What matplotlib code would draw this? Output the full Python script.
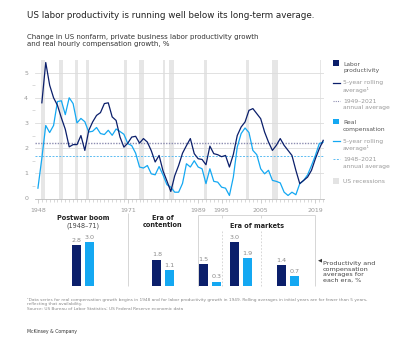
import matplotlib
matplotlib.use('Agg')
import matplotlib.pyplot as plt
from matplotlib.lines import Line2D
from matplotlib.patches import Rectangle

NAVY = '#0b1f6b'
CYAN = '#14a8f2'
GREY_TXT = '#8a8a8a'
DARK_TXT = '#222222'

# 5-year rolling averages, %
years_prod = list(range(1949, 2022))
prod_5yr = [3.8, 5.4, 4.5, 4.0, 3.7, 3.2, 2.75, 2.05, 2.14, 2.14,
            2.5, 1.91, 2.7, 3.04, 3.3, 3.41, 3.77, 3.8, 3.24, 3.1,
            2.44, 2.04, 2.2, 2.44, 2.47, 2.2, 2.38, 2.24, 1.9, 1.45,
            1.71, 1.1, 0.7, 0.28, 0.9, 1.31, 1.8, 2.1, 2.38, 1.78,
            1.58, 1.55, 1.34, 2.08, 1.78, 1.74, 1.66, 1.71, 1.25, 1.75,
            2.5, 2.84, 3.04, 3.5, 3.57, 3.37, 3.17, 2.64, 2.24, 1.91,
            2.11, 2.38, 2.11, 1.91, 1.71, 1.12, 0.59, 0.72, 0.85, 1.12,
            1.58, 1.98, 2.31]

years_comp = list(range(1948, 2022))
comp_5yr = [0.41, 1.6, 2.9, 2.62, 2.9, 3.85, 3.88, 3.33, 4.0, 3.77,
            3.0, 3.18, 3.05, 2.64, 2.67, 2.82, 2.58, 2.54, 2.71, 2.51,
            2.76, 2.66, 2.55, 2.18, 2.1, 1.8, 1.25, 1.21, 1.31, 0.98,
            0.94, 1.27, 0.94, 0.55, 0.45, 0.25, 0.25, 0.6, 1.38, 1.25,
            1.5, 1.25, 1.18, 0.59, 1.18, 0.68, 0.65, 0.45, 0.41, 0.12,
            0.85, 2.04, 2.58, 2.8, 2.62, 1.91, 1.74, 1.18, 0.98, 1.12,
            0.72, 0.68, 0.62, 0.25, 0.12, 0.25, 0.15, 0.59, 0.72, 0.94,
            1.31, 1.71, 2.18, 2.24]

prod_avg = 2.2
comp_avg = 1.7

recessions = [(1948.9, 1949.8), (1953.5, 1954.4), (1957.6, 1958.3),
              (1960.3, 1961.1), (1969.9, 1970.9), (1973.9, 1975.2),
              (1980.0, 1980.5), (1981.5, 1982.9), (1990.5, 1991.2),
              (2001.2, 2001.9), (2007.9, 2009.5), (2020.1, 2020.4)]

xtick_years = [1948, 1971, 1989, 1995, 2005, 2019]

# era averages
era_bounds = [1948, 1971, 1989, 1995, 2005, 2019]
era_prod = [2.8, 1.8, 1.5, 3.0, 1.4]
era_comp = [3.0, 1.1, 0.3, 1.9, 0.7]

W, H = 400, 343


def fx(x):
    return x / W


def fy(y):
    return 1 - y / H


fig = plt.figure(figsize=(4, 3.43), dpi=100)
fig.patch.set_facecolor('white')

# titles
fig.text(fx(27), fy(16), 'US labor productivity is running well below its long-term average.',
         fontsize=6.35, color=DARK_TXT, va='center', ha='left')
fig.text(fx(27), fy(40.5), 'Change in US nonfarm, private business labor productivity growth\n'
         'and real hourly compensation growth, %',
         fontsize=5.0, color='#333333', va='center', ha='left', linespacing=1.15)

# ---- line chart ----
left, right = 35, 324
top, bottom = 60, 198.5
ax = fig.add_axes([fx(left), fy(bottom), (right - left) / W, (bottom - top) / H])
ax.set_xlim(1947.25, 2021.2)
ax.set_ylim(0, 5.5)

for s, e in recessions:
    ax.axvspan(s, e, color='#e6e6e6', lw=0, zorder=0)

for v in range(1, 6):
    ax.axhline(v, color='#dcdcdc', lw=0.6, zorder=1)

ax.axhline(prod_avg, color='#8c8cb0', lw=1.0, ls=(0, (1, 1)), zorder=2)
ax.axhline(comp_avg, color='#5cbcf2', lw=0.7, ls=(0, (2, 1.5)), zorder=2)

ax.plot(years_comp, comp_5yr, color=CYAN, lw=0.9, zorder=3)
ax.plot(years_prod, prod_5yr, color=NAVY, lw=0.9, zorder=4)

for sp in ['top', 'right', 'left']:
    ax.spines[sp].set_visible(False)
ax.spines['bottom'].set_color('#bbbbbb')
ax.spines['bottom'].set_linewidth(0.6)

ax.set_yticks(range(0, 6))
ax.set_yticks([0.5, 1.5, 2.5, 3.5, 4.5], minor=True)
ax.tick_params(axis='y', which='major', length=0, pad=5, labelsize=4.5, labelcolor='#999999')
ax.tick_params(axis='y', which='minor', length=2.5, width=0.5, color='#cccccc')

ax.set_xticks(xtick_years)
ax.set_xticks(range(1948, 2022), minor=True)
ax.tick_params(axis='x', which='major', length=3, width=0.5, color='#bbbbbb',
               pad=3.5, labelsize=4.5, labelcolor='#999999')
ax.tick_params(axis='x', which='minor', length=2, width=0.4, color='#bbbbbb')

# ---- era bars ----
b_base, b_top = 286, 205
px_per_unit = 14.7
ax2 = fig.add_axes([fx(left), fy(b_base), (right - left) / W, (b_base - b_top) / H])
ax2.set_xlim(ax.get_xlim())
ax2.set_ylim(0, (b_base - b_top) / px_per_unit)
ax2.axis('off')

off, bw = 1.6, 2.35
for i in range(len(era_prod)):
    mid = (era_bounds[i] + era_bounds[i + 1]) / 2
    ax2.bar(mid - off, era_prod[i], width=bw, color=NAVY, lw=0)
    ax2.bar(mid + off, era_comp[i], width=bw, color=CYAN, lw=0)
    ax2.text(mid - off, era_prod[i] + 0.15, f'{era_prod[i]:.1f}', ha='center', va='bottom',
             fontsize=4.6, color=GREY_TXT)
    ax2.text(mid + off, era_comp[i] + 0.15, f'{era_comp[i]:.1f}', ha='center', va='bottom',
             fontsize=4.6, color=GREY_TXT)

div_col = '#d0d0d0'
ax2.vlines(1971, 0, 4.97, color=div_col, lw=0.6, clip_on=False)
ax2.vlines([1989, 2019], 0, 4.85, color=div_col, lw=0.6, clip_on=False)
ax2.hlines(4.85, 1989, 2019, color=div_col, lw=0.6, clip_on=False)
ax2.vlines([1995, 2005], 4.62, 4.85, color=div_col, lw=0.6, clip_on=False)
ax2.vlines([1995, 2005], 0, 3.8, color=div_col, lw=0.6, ls=(0, (2, 2)), clip_on=False)

ax2.text(1959.5, 4.65, 'Postwar boom', ha='center', va='center', fontsize=4.7,
         fontweight='bold', color=DARK_TXT)
ax2.text(1959.5, 4.08, '(1948–71)', ha='center', va='center', fontsize=4.7, color='#444444')
ax2.text(1980, 4.4, 'Era of\ncontention', ha='center', va='center', fontsize=4.7,
         fontweight='bold', color=DARK_TXT, linespacing=1.25)
ax2.text(2004, 4.1, 'Era of markets', ha='center', va='center', fontsize=4.7,
         fontweight='bold', color=DARK_TXT)

fig.text(fx(317.5), fy(260), '◀', fontsize=3.8, color='#333333', va='center', ha='left')
fig.text(fx(323), fy(272), 'Productivity and\ncompensation\naverages for\neach era, %',
         fontsize=4.6, color='#444444', va='center', ha='left', linespacing=1.2)

# ---- legend ----
lx, tx = 333, 343
leg_fs = 4.3


def leg_text(y, s, color):
    fig.text(fx(tx), fy(y), s, fontsize=leg_fs, color=color, va='center', ha='left',
             linespacing=1.3)


def leg_square(y, color):
    fig.add_artist(Rectangle((fx(lx), fy(y + 2.6)), 5.5 / W, 5.5 / H, color=color, lw=0,
                             transform=fig.transFigure))


def leg_line(y, color, ls, lw):
    fig.add_artist(Line2D([fx(lx), fx(lx + 7)], [fy(y), fy(y)], color=color, ls=ls, lw=lw,
                          transform=fig.transFigure))


leg_square(63, NAVY)
leg_text(67.5, 'Labor\nproductivity', '#555555')
leg_line(82.5, NAVY, '-', 0.9)
leg_text(86.5, '5-year rolling\naverage¹', '#999999')
leg_line(100.5, '#8c8cb0', (0, (1, 1)), 0.8)
leg_text(104.5, '1949–2021\nannual average', '#999999')
leg_square(121.5, CYAN)
leg_text(126, 'Real\ncompensation', '#555555')
leg_line(141, CYAN, '-', 0.9)
leg_text(145, '5-year rolling\naverage¹', '#999999')
leg_line(159, '#5cbcf2', (0, (2, 1.5)), 0.7)
leg_text(163, '1948–2021\nannual average', '#999999')
leg_square(181, '#e3e3e3')
leg_text(181, 'US recessions', '#999999')

# ---- footnotes ----
fig.text(fx(27), fy(304.5), '¹Data series for real compensation growth begins in 1948 and for labor '
         'productivity growth in 1949. Rolling averages in initial years are for fewer than 5 years,\n'
         'reflecting that availability.\n'
         'Source: US Bureau of Labor Statistics; US Federal Reserve economic data',
         fontsize=3.1, color='#888888', va='center', ha='left', linespacing=1.3)
fig.text(fx(27), fy(331), 'McKinsey & Company', fontsize=3.3, color='#333333',
         va='center', ha='left')

fig.savefig('out.png', dpi=100)
